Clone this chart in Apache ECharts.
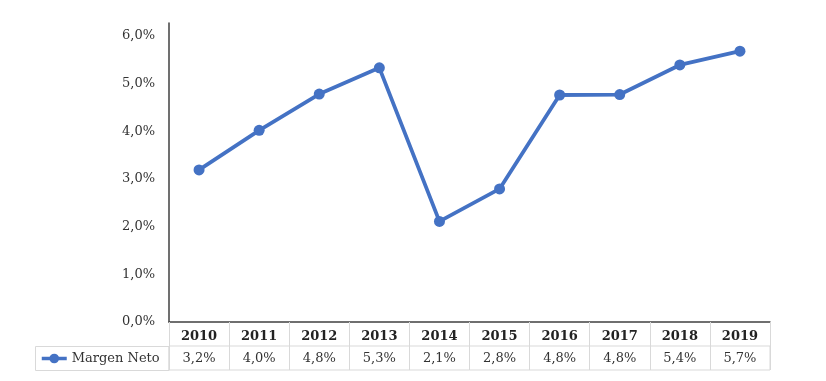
<!DOCTYPE html>
<html><head><meta charset="utf-8">
<script src="https://cdn.jsdelivr.net/npm/echarts@6/dist/echarts.min.js"></script>
<style>html,body{margin:0;padding:0;background:#fff}#c{width:826px;height:381px}</style>
</head><body><div id="c"></div>
<script>
const years = ['2010','2011','2012','2013','2014','2015','2016','2017','2018','2019'];
const margenNeto = [3.19, 4.02, 4.78, 5.33, 2.11, 2.79, 4.76, 4.77, 5.39, 5.68];
const seriesName = 'Margen Neto';
const yTicks = [0, 1, 2, 3, 4, 5, 6];

const FONT = '"DejaVu Serif", serif';
const fmt = v => v.toFixed(1).replace('.', ',') + '%';
const tableLabels = margenNeto.map(fmt);
const BLUE = '#4472C4';
const GRIDC = '#d9d9d9';

const chart = echarts.init(document.getElementById('c'));
chart.setOption({
  animation: false,
  textStyle: { fontFamily: FONT },
  grid: [
    { left: 169, right: 56, top: 23, bottom: 59 },
    { left: 169, right: 56, top: 346, height: 24, show: true, borderColor: GRIDC, borderWidth: 1 }
  ],
  legend: {
    left: 40, top: 352, padding: 0, itemWidth: 25, itemHeight: 12, itemGap: 5,
    lineStyle: { width: 3.5 },
    textStyle: { fontFamily: FONT, fontSize: 13, color: '#333' },
    data: [seriesName]
  },
  graphic: [
    { type: 'rect', shape: { x: 35.5, y: 346.5, width: 133.5, height: 24 },
      style: { fill: 'none', stroke: GRIDC, lineWidth: 1 }, z: 0 }
  ],
  xAxis: [
    { type: 'category', gridIndex: 0, data: years, boundaryGap: true,
      axisLine: { lineStyle: { color: '#404040', width: 1.5 } },
      axisTick: { show: true, length: 24, lineStyle: { color: GRIDC } },
      axisLabel: { margin: 8, fontSize: 13, fontWeight: 'bold', color: '#222', fontFamily: FONT },
      splitLine: { show: false } },
    { type: 'category', gridIndex: 1, data: tableLabels, boundaryGap: true,
      axisLine: { show: false },
      axisTick: { show: true, inside: true, length: 24, lineStyle: { color: GRIDC } },
      axisLabel: { inside: true, margin: 5, fontSize: 13, color: '#333', fontFamily: FONT },
      splitLine: { show: false } }
  ],
  yAxis: [
    { type: 'value', gridIndex: 0, min: 0, max: 6.27, interval: 1,
      axisLine: { show: true, lineStyle: { color: '#404040', width: 1.5 } },
      axisTick: { show: false },
      splitLine: { show: false },
      axisLabel: { margin: 14, fontSize: 13, color: '#333', fontFamily: FONT,
        formatter: v => yTicks.includes(Math.round(v * 1000) / 1000) ? fmt(v) : '' } },
    { type: 'value', gridIndex: 1, show: false }
  ],
  series: [
    { name: seriesName, type: 'line', xAxisIndex: 0, yAxisIndex: 0,
      data: margenNeto, symbol: 'circle', symbolSize: 11,
      lineStyle: { color: BLUE, width: 3.8 },
      itemStyle: { color: BLUE } }
  ]
});
</script></body></html>
